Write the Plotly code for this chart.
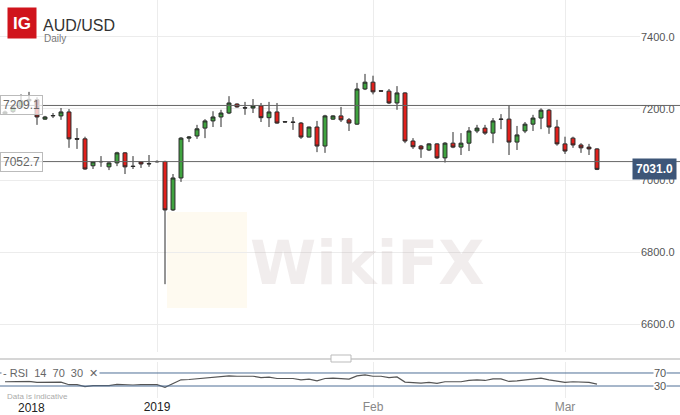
import plotly.graph_objects as go
import pandas as pd

FONT = "Liberation Sans, Arial, sans-serif"

# Daily candles, Sunday to Friday (IG daily chart)
days = pd.date_range("2018-12-10", "2019-03-06", freq="D")
dates = [d.strftime("%Y-%m-%d") for d in days if d.weekday() != 5]

opens = [7186, 7192, 7205, 7222, 7225, 7171, 7180, 7180, 7191, 7117,
         7116, 7041, 7052, 7038, 7049, 7077, 7040, 7052, 7046, 7052,
         7053, 6918, 7007, 7118, 7124, 7146, 7166, 7177, 7188, 7213,
         7203, 7202, 7208, 7175, 7191, 7164, 7163, 7160, 7121, 7149,
         7096, 7171, 7180, 7169, 7157, 7255, 7274, 7250, 7249, 7216,
         7244, 7110, 7096, 7085, 7102, 7063, 7104, 7093, 7104, 7138,
         7146, 7132, 7170, 7171, 7107, 7138, 7157, 7174, 7196, 7149,
         7102, 7118, 7099, 7093, 7088]
highs = [7195, 7212, 7240, 7247, 7232, 7180, 7188, 7202, 7199, 7146,
         7122, 7054, 7068, 7051, 7080, 7079, 7068, 7053, 7071, 7056,
         7055, 7018, 7121, 7124, 7155, 7171, 7193, 7197, 7235, 7215,
         7219, 7227, 7216, 7219, 7216, 7165, 7177, 7163, 7150, 7166,
         7183, 7182, 7205, 7174, 7272, 7297, 7292, 7251, 7255, 7263,
         7246, 7118, 7099, 7104, 7104, 7107, 7135, 7132, 7149, 7155,
         7155, 7174, 7185, 7210, 7152, 7163, 7183, 7201, 7199, 7169,
         7122, 7122, 7104, 7102, 7090]
lows = [7183, 7188, 7200, 7212, 7155, 7169, 7174, 7169, 7091, 7088,
        7030, 7032, 7038, 7029, 7040, 7018, 7032, 7035, 7038, 7050,
        6711, 6915, 6996, 7107, 7116, 7118, 7149, 7149, 7185, 7203,
        7183, 7188, 7163, 7149, 7158, 7162, 7141, 7116, 7120, 7079,
        7077, 7169, 7163, 7138, 7155, 7252, 7240, 7248, 7213, 7197,
        7104, 7088, 7063, 7082, 7060, 7050, 7090, 7071, 7082, 7132,
        7127, 7104, 7143, 7071, 7085, 7132, 7138, 7143, 7130, 7097,
        7074, 7091, 7077, 7071, 7029]
closes = [7191, 7205, 7222, 7226, 7177, 7177, 7181, 7191, 7116, 7115,
          7032, 7052, 7053, 7049, 7077, 7038, 7039, 7046, 7047, 7053,
          6918, 7007, 7118, 7121, 7144, 7166, 7177, 7188, 7216, 7205,
          7202, 7208, 7175, 7191, 7160, 7163, 7162, 7121, 7149, 7096,
          7180, 7180, 7169, 7160, 7255, 7274, 7247, 7249, 7216, 7244,
          7110, 7094, 7088, 7102, 7063, 7104, 7093, 7104, 7138, 7146,
          7132, 7166, 7171, 7107, 7127, 7157, 7174, 7196, 7149, 7102,
          7082, 7099, 7091, 7088, 7031]
rsi = [43, 44, 44, 44, 41, 41, 41, 42, 34, 34,
       28, 31, 31, 31, 35, 33, 33, 34, 34, 34,
       26, 37, 49, 50, 52, 55, 56, 58, 61, 60,
       60, 60, 56, 57, 53, 53, 53, 49, 51, 46,
       53, 54, 52, 51, 61, 64, 60, 60, 56, 58,
       42, 40, 39, 41, 38, 43, 42, 43, 47, 49,
       47, 52, 52, 44, 46, 49, 51, 54, 49, 44,
       41, 43, 42, 41, 36]

levels = [7209.1, 7052.7]
last_price = 7031.0
price_ticks = [6600, 6800, 7000, 7200, 7400]
date_ticks = ["2019-01-01", "2019-02-01", "2019-03-01"]
date_labels = ["<span style='color:#222'>2019</span>", "Feb", "Mar"]

W = 640  # plot area width in px
H = 398  # plot area height in px
fig = go.Figure()

fig.add_trace(go.Candlestick(
    x=dates, open=opens, high=highs, low=lows, close=closes,
    increasing=dict(fillcolor="#3fa33f", line=dict(color="#2b2b2b", width=1)),
    decreasing=dict(fillcolor="#e0201c", line=dict(color="#2b2b2b", width=1)),
    whiskerwidth=0, showlegend=False, xaxis="x", yaxis="y",
))

fig.add_trace(go.Scatter(
    x=dates, y=rsi, mode="lines", line=dict(color="#555555", width=1.2),
    showlegend=False, xaxis="x", yaxis="y2", hoverinfo="skip",
))

# Support / resistance lines
for lv in levels:
    fig.add_shape(type="line", xref="paper", yref="y", x0=0, x1=680 / W,
                  y0=lv, y1=lv, line=dict(color="#666666", width=1))
    fig.add_annotation(xref="paper", yref="y", x=0, y=lv, xanchor="left",
                       text=f"{lv:.1f}", showarrow=False,
                       font=dict(family=FONT, size=12, color="#666666"),
                       bgcolor="rgba(255,255,255,0.75)", bordercolor="#bbbbbb",
                       borderwidth=1, borderpad=2)

# RSI 70 / 30 bands
for lv in [70, 30]:
    fig.add_shape(type="line", xref="paper", yref="y2", x0=0, x1=680 / W,
                  y0=lv, y1=lv, line=dict(color="#4f6f96", width=1))
    fig.add_annotation(xref="paper", yref="y2", x=667 / W, y=lv, text=str(lv),
                       showarrow=False, bgcolor="white", borderpad=0,
                       font=dict(family=FONT, size=11, color="#555555"))

# Panel separator + handle
fig.add_shape(type="line", xref="paper", yref="paper", x0=0, x1=680 / W,
              y0=(H - 359) / H, y1=(H - 359) / H,
              line=dict(color="#d6d6d6", width=2))
fig.add_shape(type="rect", xref="paper", yref="paper",
              x0=331 / W, x1=351 / W, y0=(H - 362) / H, y1=(H - 355) / H,
              fillcolor="white", line=dict(color="#bbbbbb", width=1))

# Watermark
fig.add_shape(type="rect", xref="paper", yref="paper", layer="below",
              x0=167 / W, x1=247 / W, y0=(H - 308) / H, y1=(H - 212) / H,
              fillcolor="rgba(250,215,140,0.13)", line=dict(width=0))
fig.add_annotation(xref="paper", yref="paper", x=367 / W, y=(H - 263) / H,
                   text="<b>WikiFX</b>", showarrow=False,
                   font=dict(family="DejaVu Sans, sans-serif", size=60,
                             color="rgba(170,140,140,0.16)"))

# Last price tag
fig.add_annotation(xref="paper", yref="y", x=677 / W, y=last_price,
                   xanchor="right", text=f"<b>{last_price:.1f}</b>",
                   showarrow=False,
                   font=dict(family=FONT, size=12, color="white"),
                   bgcolor="#3d5678", borderpad=3)

# Header
fig.add_annotation(xref="paper", yref="paper", x=7 / W, y=(H - 7) / H,
                   xanchor="left", yanchor="top", text="<b>IG</b>",
                   showarrow=False, width=26, height=28, bgcolor="#d0141c",
                   font=dict(family=FONT, size=17, color="white"))
fig.add_annotation(xref="paper", yref="paper", x=41 / W, y=(H - 15) / H,
                   xanchor="left", text="AUD/USD", showarrow=False,
                   font=dict(family=FONT, size=16, color="#333333"))
fig.add_annotation(xref="paper", yref="paper", x=42 / W, y=(H - 31) / H,
                   xanchor="left", text="Daily", showarrow=False,
                   font=dict(family=FONT, size=10, color="#777777"))

# RSI legend and footnote
fig.add_annotation(xref="paper", yref="y2", x=1 / W, y=70, xanchor="left",
                   text="- RSI  14  70  30  \u2715", showarrow=False,
                   bgcolor="white", borderpad=1,
                   font=dict(family=FONT, size=11, color="#666666"))
fig.add_annotation(xref="paper", yref="paper", x=5 / W, y=(H - 390) / H,
                   xanchor="left", yanchor="top", text="Data is indicative",
                   showarrow=False,
                   font=dict(family=FONT, size=8, color="#aaaaaa"))
fig.add_annotation(xref="paper", yref="paper", x=16 / W, y=-10 / H,
                   text="2018", showarrow=False, yanchor="middle",
                   font=dict(family=FONT, size=12, color="#222222"))

fig.update_layout(
    width=680, height=415,
    margin=dict(l=0, r=680 - W, t=0, b=415 - H),
    paper_bgcolor="white", plot_bgcolor="white",
    font=dict(family=FONT, size=11, color="#555555"),
    showlegend=False,
    xaxis=dict(type="category", range=[-0.625, (W - 5) / 8],
               anchor="y2", rangeslider=dict(visible=False),
               tickvals=date_ticks, ticktext=date_labels,
               tickfont=dict(family=FONT, size=12, color="#888888"),
               showgrid=True, gridcolor="#ececec", ticks="", zeroline=False),
    yaxis=dict(domain=[46 / H, 1], range=[6522, 7503], side="right",
               tickvals=price_ticks, tickformat=".1f",
               tickfont=dict(family=FONT, size=11, color="#555555"),
               showgrid=True, gridcolor="#ececec", zeroline=False, ticks=""),
    yaxis2=dict(domain=[0, 36 / H], range=[-6.9, 103.8], side="right",
                showticklabels=False, showgrid=False, zeroline=False),
)

fig.write_html("out.html", config={"displayModeBar": False},
               post_script="document.body.style.margin='0px';")
